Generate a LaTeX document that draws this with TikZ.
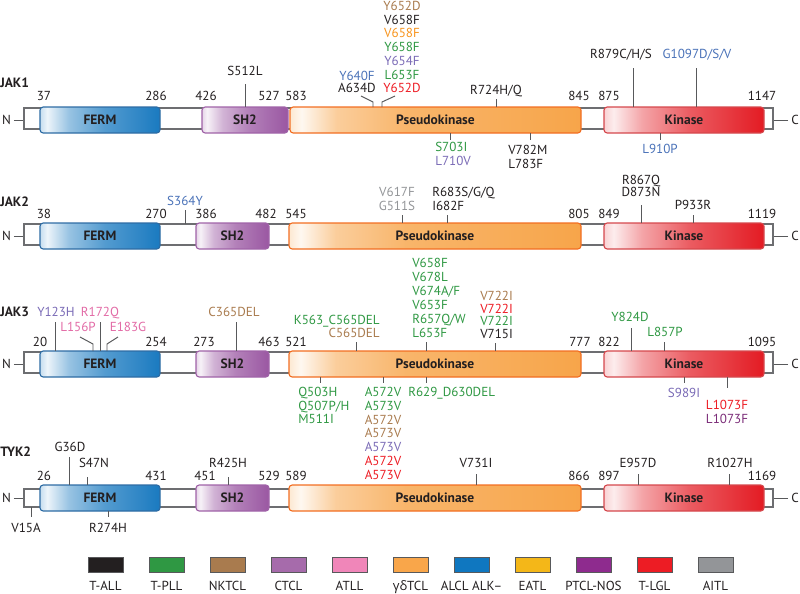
\documentclass[tikz,border=0pt]{standalone}
\usepackage{fontspec}
\setmainfont{PT Sans}
\newfontfamily\grkfont{Open Sans}
\usetikzlibrary{fit,positioning}

\definecolor{ink}{HTML}{231F20}
\definecolor{leadc}{HTML}{58595B}
\definecolor{bandc}{HTML}{6D6E71}
% disease colours
\definecolor{tall}{HTML}{231F20}
\definecolor{tpll}{HTML}{2F9843}
\definecolor{nktcl}{HTML}{A97B4E}
\definecolor{ctcl}{HTML}{A66BAB}
\definecolor{ctcltx}{HTML}{7A6BB6}
\definecolor{atll}{HTML}{F086B9}
\definecolor{atlltx}{HTML}{E26BA6}
\definecolor{gdtcl}{HTML}{F9A64A}
\definecolor{gdtcltx}{HTML}{F7941D}
\definecolor{alcl}{HTML}{0F77C0}
\definecolor{alcltx}{HTML}{4A72B8}
\definecolor{eatl}{HTML}{F4B718}
\definecolor{ptcl}{HTML}{8E2B8E}
\definecolor{ptcltx}{HTML}{7B2C78}
\definecolor{tlgl}{HTML}{ED1C24}
\definecolor{aitl}{HTML}{939598}
% domain colours
\definecolor{fermhi}{HTML}{1A7AC0}
\definecolor{fermln}{HTML}{2E6CA4}
\definecolor{sh2hi}{HTML}{9A57A2}
\definecolor{sh2ln}{HTML}{A063A8}
\definecolor{pkhi}{HTML}{F7A54A}
\definecolor{pkln}{HTML}{F26E22}
\definecolor{kinhi}{HTML}{E31B23}
\definecolor{kinln}{HTML}{D5484D}

\pgfdeclarehorizontalshading{fermshade}{100bp}{color(0bp)=(fermhi!25); color(25bp)=(fermhi!25); color(28bp)=(fermhi!8); color(37bp)=(fermhi!45); color(52bp)=(fermhi!75); color(75bp)=(fermhi); color(100bp)=(fermhi)}
\pgfdeclarehorizontalshading{sh2shade}{100bp}{color(0bp)=(sh2hi!25); color(25bp)=(sh2hi!25); color(28bp)=(sh2hi!8); color(37bp)=(sh2hi!45); color(52bp)=(sh2hi!75); color(75bp)=(sh2hi); color(100bp)=(sh2hi)}
\pgfdeclarehorizontalshading{pkshade}{100bp}{color(0bp)=(pkhi!25); color(25bp)=(pkhi!25); color(27bp)=(pkhi!8); color(33bp)=(pkhi!55); color(45bp)=(pkhi!82); color(75bp)=(pkhi); color(100bp)=(pkhi)}
\pgfdeclarehorizontalshading{kinshade}{100bp}{color(0bp)=(kinhi!20); color(25bp)=(kinhi!20); color(28bp)=(kinhi!8); color(37bp)=(kinhi!40); color(52bp)=(kinhi!72); color(75bp)=(kinhi); color(100bp)=(kinhi)}

\newcommand\mutfont{\fontsize{9.3}{11}\selectfont}
\newcommand\domfont{\fontsize{9.6}{11}\selectfont\bfseries}

% domain box: style, name, x from, x to, top, text
\newcommand\dom[6]{%
  \node[#1, fit={(#3,#5) (#4,{#5+26})}] (#2) {};
  \node[dtext] (#2-t) at (#2.center) {#6};}
% mutation tick: name, x, y from, y to
\newcommand\mtick[4]{%
  \coordinate (#1a) at (#2,#3);
  \coordinate (#1b) at (#2,#4);
  \draw[lead] (#1a) -- (#1b);}

\begin{document}
\begin{tikzpicture}[x=0.25mm,y=-0.25mm,
  lead/.style={draw=leadc,line width=0.7pt},
  mut/.style={font=\mutfont,inner sep=0pt,text height=6.4pt,text depth=0pt},
  num/.style={mut,text=ink},
  band/.style={draw=bandc,fill=white,line width=0.8pt,inner sep=0pt},
  dom/.style={draw,rounded corners=0.8mm,line width=0.8pt,inner sep=0pt,shade},
  ferm/.style={dom,draw=fermln,shading=fermshade},
  sh2/.style={dom,draw=sh2ln,shading=sh2shade},
  pk/.style={dom,draw=pkln,shading=pkshade},
  kin/.style={dom,draw=kinln,shading=kinshade},
  dtext/.style={font=\domfont,text=ink,inner sep=0pt},
  rowlab/.style={font=\domfont,text=ink,anchor=west,inner sep=0pt},
  legbox/.style={draw=leadc,line width=0.6pt,minimum width=8.75mm,minimum height=3.75mm,inner sep=0pt}]
\useasboundingbox (0,0) rectangle (800,593);

%% JAK1
\node[rowlab] (j1lab) at (0,83) {JAK1};
\node[band,fit={(24,108) (773,129)}] (j1band) {};
\dom{ferm}{j1ferm}{40}{160}{107}{FERM}
\dom{sh2}{j1sh2}{202}{288}{107}{SH2}
\dom{pk}{j1pk}{290}{581}{107}{Pseudokinase}
\dom{kin}{j1kin}{604}{764}{107}{Kinase}
\node[num,inner xsep=2pt] (j1N) at (6.5,120) {N};
\draw[lead] (j1N.east) -- (j1N.east -| j1band.west);
\node[num,inner xsep=2pt] (j1C) at (795,120) {C};
\draw[lead] (j1C.west) -- (j1C.west -| j1band.east);
\foreach \x/\t in {44/37,156/286,206/426,269/527,296/583,579/845,609/875,762/1147}
  \node[num] (j1num\t) at (\x,96) {\t};
% above
\mtick{j1s512l}{245}{107}{84}
\node[num] (j1s512l) at (245,71) {S512L};
\node[mut,text=alcltx] (j1y640f) at (357,76) {Y640F};
\node[num] (j1a634d) at (357,88) {A634D};
\coordinate (j1la) at (361,96); \coordinate (j1lb) at (373,102); \coordinate (j1lc) at (373,107);
\draw[lead] (j1la) -- (j1lb) -- (j1lc);
\foreach \t/\c [count=\i from 0] in {Y652D/nktcl,V658F/tall,V658F/gdtcltx,Y658F/tpll,Y654F/ctcltx,L653F/tpll,Y652D/tlgl}
  \node[mut,text=\c] (j1col\i) at (402,{6+13.7*\i}) {\t};
\coordinate (j1ra) at (395,96); \coordinate (j1rb) at (382,102); \coordinate (j1rc) at (382,107);
\draw[lead] (j1ra) -- (j1rb) -- (j1rc);
\mtick{j1r724}{496}{107}{99}
\node[num] (j1r724) at (496,90) {R724H/Q};
\mtick{j1r879}{633}{107}{68}
\node[num] (j1r879) at (621,54) {R879C/H/S};
\mtick{j1g1097}{696}{107}{68}
\node[mut,text=alcltx] (j1g1097) at (697,54) {G1097D/S/V};
% below
\mtick{j1s703}{450}{133}{140}
\node[mut,text=tpll,anchor=west] (j1s703) at (435,147) {S703I};
\node[mut,text=ctcltx,anchor=west] (j1l710) at (435,161) {L710V};
\mtick{j1v782}{530}{133}{140}
\node[num,anchor=west] (j1v782) at (508,150) {V782M};
\node[num,anchor=west] (j1l783) at (508,164) {L783F};
\mtick{j1l910}{660}{133}{140}
\node[mut,text=alcltx] (j1l910) at (660,149) {L910P};

%% JAK2
\node[rowlab] (j2lab) at (0,202) {JAK2};
\node[band,fit={(24,224) (773,245)}] (j2band) {};
\dom{ferm}{j2ferm}{40}{160}{223}{FERM}
\dom{sh2}{j2sh2}{196}{269}{223}{SH2}
\dom{pk}{j2pk}{289}{581}{223}{Pseudokinase}
\dom{kin}{j2kin}{604}{764}{223}{Kinase}
\node[num,inner xsep=2pt] (j2N) at (6.5,236) {N};
\draw[lead] (j2N.east) -- (j2N.east -| j2band.west);
\node[num,inner xsep=2pt] (j2C) at (795,236) {C};
\draw[lead] (j2C.west) -- (j2C.west -| j2band.east);
\foreach \x/\t in {44/38,156/270,206/386,266/482,296/545,579/805,609/849,762/1119}
  \node[num] (j2num\t) at (\x,214) {\t};
\mtick{j2s364}{185}{224}{210}
\node[mut,text=alcltx] (j2s364) at (185,201) {S364Y};
\mtick{j2v617}{402}{223}{215}
\node[mut,text=aitl] (j2v617) at (397,192) {V617F};
\node[mut,text=aitl] (j2g511) at (397,206) {G511S};
\mtick{j2r683}{447}{223}{215}
\node[num,anchor=west] (j2r683) at (432,192) {R683S/G/Q};
\node[num,anchor=west] (j2i682) at (432,206) {I682F};
\mtick{j2r867}{641}{223}{205}
\node[num] (j2r867) at (641,180) {R867Q};
\node[num] (j2d873) at (641,192) {D873N};
\mtick{j2p933}{693}{223}{215}
\node[num] (j2p933) at (693,205) {P933R};

%% JAK3
\node[rowlab] (j3lab) at (0,312) {JAK3};
\node[band,fit={(24,352) (773,373)}] (j3band) {};
\dom{ferm}{j3ferm}{40}{160}{351}{FERM}
\dom{sh2}{j3sh2}{196}{269}{351}{SH2}
\dom{pk}{j3pk}{289}{581}{351}{Pseudokinase}
\dom{kin}{j3kin}{604}{764}{351}{Kinase}
\node[num,inner xsep=2pt] (j3N) at (6.5,364) {N};
\draw[lead] (j3N.east) -- (j3N.east -| j3band.west);
\node[num,inner xsep=2pt] (j3C) at (795,364) {C};
\draw[lead] (j3C.west) -- (j3C.west -| j3band.east);
\foreach \x/\t in {40/20,156/254,204/273,269/463,296/521,580/777,609/822,762/1095}
  \node[num] (j3num\t) at (\x,342) {\t};
% above
\mtick{j3y123}{55}{351}{322}
\node[mut,text=ctcltx] (j3y123) at (56,312) {Y123H};
\mtick{j3r172}{100}{351}{322}
\node[mut,text=atlltx] (j3r172) at (100,312) {R172Q};
\node[mut,text=atlltx] (j3l156) at (78,327) {L156P};
\coordinate (j3la) at (80,337); \coordinate (j3lb) at (93,344); \coordinate (j3lc) at (93,351);
\draw[lead] (j3la) -- (j3lb) -- (j3lc);
\node[mut,text=atlltx] (j3e183) at (128,327) {E183G};
\coordinate (j3ea) at (118,337); \coordinate (j3eb) at (107,344); \coordinate (j3ec) at (107,351);
\draw[lead] (j3ea) -- (j3eb) -- (j3ec);
\mtick{j3c365}{236}{351}{322}
\node[mut,text=nktcl] (j3c365) at (234,312) {C365DEL};
\mtick{j3k563}{356}{351}{342}
\node[mut,text=tpll,anchor=east] (j3k563) at (380,320) {K563\_C565DEL};
\node[mut,text=nktcl,anchor=east] (j3c565) at (380,333) {C565DEL};
\foreach \t [count=\i from 0] in {V658F,V678L,V674A/F,V653F,R657Q/W,L653F}
  \node[mut,text=tpll,anchor=west] (j3col\i) at (412,{263+14*\i}) {\t};
\mtick{j3l653}{426}{351}{342}
\foreach \t/\c [count=\i from 0] in {V722I/nktcl,V722I/tlgl,V722I/tpll,V715I/tall}
  \node[mut,text=\c,anchor=west] (j3vcol\i) at (480,{296+12.7*\i}) {\t};
\mtick{j3v715}{495}{351}{343}
\mtick{j3y824}{631}{351}{328}
\node[mut,text=tpll] (j3y824) at (630,317) {Y824D};
\mtick{j3l857}{664}{351}{342}
\node[mut,text=tpll] (j3l857) at (665,332) {L857P};
% below
\mtick{j3q503}{320}{377}{383}
\foreach \t [count=\i from 0] in {Q503H,Q507P/H,M511I}
  \node[mut,text=tpll,anchor=west] (j3qcol\i) at (298,{392+13.5*\i}) {\t};
\mtick{j3a572}{383}{377}{383}
\foreach \t/\c [count=\i from 0] in {A572V/tpll,A573V/tpll,A572V/nktcl,A573V/nktcl,A573V/ctcltx,A572V/tlgl,A573V/tlgl}
  \node[mut,text=\c] (j3acol\i) at (383,{392+13.8*\i}) {\t};
\mtick{j3r629}{426}{377}{383}
\node[mut,text=tpll,anchor=west] (j3r629) at (408,392) {R629\_D630DEL};
\mtick{j3s989}{684}{377}{383}
\node[mut,text=ctcltx] (j3s989) at (684,393) {S989I};
\mtick{j3l1073}{727}{377}{388}
\node[mut,text=tlgl] (j3l1073a) at (727,405) {L1073F};
\node[mut,text=ptcltx] (j3l1073b) at (727,419) {L1073F};

%% TYK2
\node[rowlab] (t2lab) at (0,452) {TYK2};
\node[band,fit={(24,489) (773,507)}] (t2band) {};
\dom{ferm}{t2ferm}{40}{160}{485}{FERM}
\dom{sh2}{t2sh2}{196}{269}{485}{SH2}
\dom{pk}{t2pk}{289}{581}{485}{Pseudokinase}
\dom{kin}{t2kin}{604}{764}{485}{Kinase}
\node[num,inner xsep=2pt] (t2N) at (6.5,498) {N};
\draw[lead] (t2N.east) -- (t2N.east -| t2band.west);
\node[num,inner xsep=2pt] (t2C) at (795,498) {C};
\draw[lead] (t2C.west) -- (t2C.west -| t2band.east);
\foreach \x/\t in {44/26,156/431,205/451,269/529,296/589,579/866,609/897,762/1169}
  \node[num] (t2num\t) at (\x,476) {\t};
\mtick{t2g36}{69}{485}{457}
\node[num] (t2g36) at (70,447) {G36D};
\mtick{t2s47}{87}{485}{477}
\node[num] (t2s47) at (94,463) {S47N};
\mtick{t2r425}{228}{485}{477}
\node[num] (t2r425) at (228,463) {R425H};
\mtick{t2v731}{476}{485}{474}
\node[num] (t2v731) at (476,463) {V731I};
\mtick{t2e957}{638}{485}{474}
\node[num] (t2e957) at (638,463) {E957D};
\mtick{t2r1027}{729}{485}{474}
\node[num] (t2r1027) at (730,463) {R1027H};
\mtick{t2v15}{31}{507}{517}
\node[num] (t2v15) at (26,528) {V15A};
\mtick{t2r274}{108}{511}{517}
\node[num] (t2r274) at (108,528) {R274H};

%% legend
\foreach \c/\t [count=\i from 0] in {tall/T-ALL,tpll/T-PLL,nktcl/NKTCL,ctcl/CTCL,atll/ATLL,gdtcl/{{\grkfont γδ}TCL},alcl/ALCL ALK–,eatl/EATL,ptcl/PTCL-NOS,tlgl/T-LGL,aitl/AITL}{
  \node[legbox,fill=\c] (lb\i) at ({105.5+61*\i},564.5) {};
  \node[num,below=2.1mm of lb\i] (lt\i) {\t};
}
\end{tikzpicture}
\end{document}
